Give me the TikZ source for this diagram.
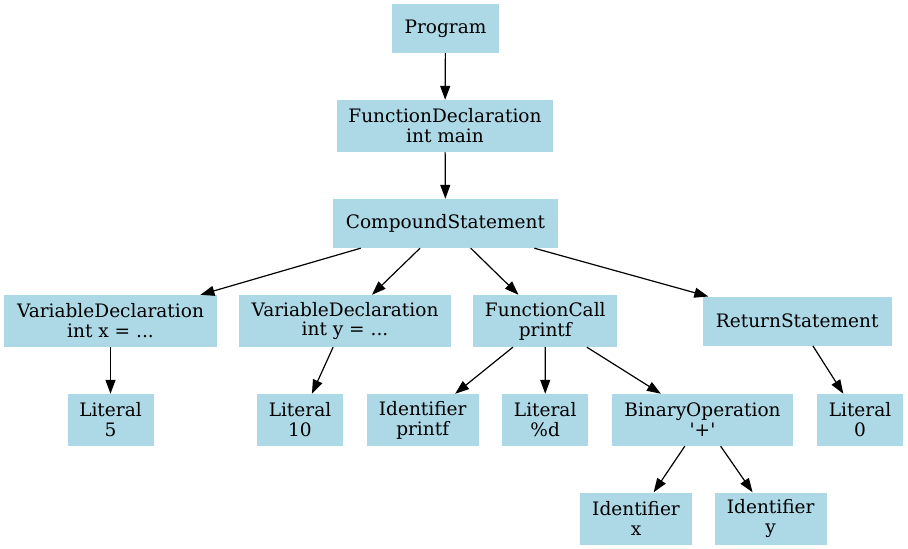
\documentclass[tikz,border=0pt]{standalone}
\usepackage{fontspec}
\setmainfont{DejaVu Serif}
\usetikzlibrary{arrows.meta}
\definecolor{nodeblue}{HTML}{ADD8E6}
\tikzset{
  astnode/.style={fill=nodeblue, draw=none, inner sep=0pt, align=center,
    font=\fontsize{18.6}{20}\selectfont, minimum height=#1},
  astnode/.default=52bp,
  edge/.style={draw=black, line width=1.2bp, -{Triangle[length=14bp,width=10bp]}}
}
\begin{document}
\begin{tikzpicture}[x=1bp,y=-1bp]
\useasboundingbox (0,0) rectangle (908,549);
\node[astnode=49bp, minimum width=107bp] (prog) at (445.5,28.5) {Program};
\node[astnode, minimum width=216bp] (fd) at (445,126) {FunctionDeclaration\\int main};
\node[astnode=49bp, minimum width=225bp] (cs) at (445.5,223.5) {CompoundStatement};
\node[astnode, minimum width=212bp] (vdx) at (110.5,321) {VariableDeclaration\\int x = ...};
\node[astnode, minimum width=212bp] (vdy) at (345,321) {VariableDeclaration\\int y = ...};
\node[astnode, minimum width=144bp] (fc) at (545.3,321) {FunctionCall\\printf};
\node[astnode=49bp, minimum width=189bp] (rs) at (797.2,321.2) {ReturnStatement};
\node[astnode, minimum width=86bp] (l5) at (110.5,420) {Literal\\5};
\node[astnode, minimum width=86bp] (l10) at (300,420) {Literal\\10};
\node[astnode, minimum width=112bp] (ip) at (422.7,420) {Identifier\\printf};
\node[astnode, minimum width=86bp] (ld) at (545.2,420) {Literal\\\%d};
\node[astnode, minimum width=181bp] (bo) at (702.5,420) {BinaryOperation\\\textquotesingle+\textquotesingle};
\node[astnode, minimum width=86bp] (l0) at (860,420) {Literal\\0};
\node[astnode, minimum width=112bp] (ix) at (636,518.5) {Identifier\\x};
\node[astnode, minimum width=112bp] (iy) at (770.7,518.5) {Identifier\\y};
\draw[edge] (prog) -- (fd);
\draw[edge] (fd) -- (cs);
\draw[edge] (cs) -- (vdx);
\draw[edge] (cs) -- (vdy);
\draw[edge] (cs) -- (fc);
\draw[edge] (cs) -- (rs);
\draw[edge] (vdx) -- (l5);
\draw[edge] (vdy) -- (l10);
\draw[edge] (fc) -- (ip);
\draw[edge] (fc) -- (ld);
\draw[edge] (fc) -- (bo);
\draw[edge] (rs) -- (l0);
\draw[edge] (bo) -- (ix);
\draw[edge] (bo) -- (iy);
\end{tikzpicture}
\end{document}
